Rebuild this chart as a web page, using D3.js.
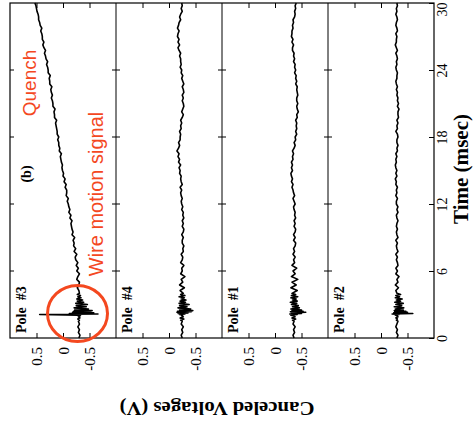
<!DOCTYPE html>
<html>
<head>
<meta charset="utf-8">
<script src="https://cdn.jsdelivr.net/npm/d3@7"></script>
<style>
  html, body { margin: 0; padding: 0; background: #fff; }
  svg { display: block; }
</style>
</head>
<body>
<svg id="chart" width="475" height="427"></svg>
<script>
// ---------------- DATA ----------------
const panelNames = ["Pole  #3", "Pole  #4", "Pole  #1", "Pole  #2"];
const timeTicks = [0, 6, 12, 18, 24, 30];
const voltTicks = [0.5, 0, -0.5];
const voltTickLabels = ["0.5", "0", "-0.5"];

// sample times (msec), rows
const timeRows = [
  [0,0.25,0.5,0.75,1,1.25,1.5],
  [1.6,1.7,1.8,1.9,2.0],
  [2.05,2.1,2.15,2.2,2.25,2.3,2.35,2.4,2.45,2.5],
  [2.6,2.7,2.8,2.9,3.0,3.1,3.2,3.3,3.4,3.5,3.6,3.7,3.8,3.9,4.0],
  [4.25,4.5,4.75,5,5.25,5.5,5.75,6,6.25,6.5,6.75,7],
  [7.25,7.5,7.75,8,8.25,8.5,8.75,9,9.25,9.5,9.75,10],
  [10.25,10.5,10.75,11,11.25,11.5,11.75,12,12.25,12.5,12.75,13],
  [13.25,13.5,13.75,14,14.25,14.5,14.75,15,15.25,15.5,15.75,16],
  [16.25,16.5,16.75,17,17.25,17.5,17.75,18,18.25,18.5,18.75,19],
  [19.25,19.5,19.75,20,20.25,20.5,20.75,21,21.25,21.5,21.75,22],
  [22.25,22.5,22.75,23,23.25,23.5,23.75,24,24.25,24.5,24.75,25],
  [25.25,25.5,25.75,26,26.25,26.5,26.75,27,27.25,27.5,27.75,28],
  [28.25,28.5,28.75,29,29.25,29.5,29.75,30]
];

// Pole #3 canceled voltage (V)
const pole3 = [
  [-0.30,-0.32,-0.29,-0.31,-0.28,-0.31,-0.29],
  [-0.31,-0.28,-0.32,-0.29,-0.33],
  [-0.28,0.44,-0.66,-0.12,-0.58,-0.18,-0.52,-0.20,-0.55,-0.22],
  [-0.48,-0.21,-0.44,-0.25,-0.46,-0.24,-0.39,-0.27,-0.37,-0.26,-0.34,-0.28,-0.33,-0.27,-0.31],
  [-0.30,-0.27,-0.30,-0.31,-0.26,-0.28,-0.31,-0.26,-0.29,-0.25,-0.28,-0.24],
  [-0.23,-0.26,-0.21,-0.24,-0.20,-0.21,-0.19,-0.22,-0.17,-0.19,-0.17,-0.16],
  [-0.15,-0.17,-0.13,-0.15,-0.11,-0.13,-0.11,-0.10,-0.08,-0.10,-0.06,-0.07],
  [-0.07,-0.04,-0.06,-0.02,-0.04,0.00,-0.01,0.01,0.02,0.01,0.03,0.04],
  [0.05,0.03,0.07,0.06,0.08,0.08,0.10,0.08,0.11,0.11,0.12,0.13],
  [0.14,0.12,0.16,0.16,0.17,0.15,0.19,0.19,0.20,0.22,0.20,0.22],
  [0.23,0.21,0.25,0.25,0.26,0.24,0.28,0.28,0.29,0.31,0.29,0.32],
  [0.33,0.35,0.33,0.36,0.38,0.36,0.39,0.39,0.40,0.42,0.40,0.43],
  [0.44,0.46,0.46,0.47,0.49,0.50,0.51,0.53]
];

// Pole #4
const pole4 = [
  [-0.25,-0.23,-0.26,-0.24,-0.27,-0.23,-0.25],
  [-0.22,-0.28,-0.21,-0.27,-0.24],
  [-0.26,-0.20,-0.30,-0.17,-0.36,-0.15,-0.42,-0.16,-0.45,-0.20],
  [-0.41,-0.17,-0.34,-0.20,-0.38,-0.19,-0.31,-0.21,-0.32,-0.23,-0.29,-0.19,-0.30,-0.22,-0.27],
  [-0.21,-0.29,-0.20,-0.26,-0.23,-0.30,-0.22,-0.25,-0.24,-0.28,-0.22,-0.25],
  [-0.26,-0.23,-0.27,-0.26,-0.28,-0.25,-0.25,-0.27,-0.24,-0.27,-0.28,-0.25],
  [-0.27,-0.25,-0.28,-0.26,-0.27,-0.24,-0.26,-0.24,-0.23,-0.25,-0.23,-0.22],
  [-0.24,-0.21,-0.25,-0.23,-0.22,-0.23,-0.20,-0.21,-0.19,-0.22,-0.18,-0.20],
  [-0.17,-0.19,-0.15,-0.18,-0.20,-0.18,-0.21,-0.21,-0.22,-0.20,-0.23,-0.22],
  [-0.24,-0.22,-0.25,-0.27,-0.24,-0.26,-0.28,-0.27,-0.25,-0.27,-0.25,-0.28],
  [-0.27,-0.25,-0.28,-0.26,-0.24,-0.26,-0.23,-0.24,-0.21,-0.23,-0.22,-0.22],
  [-0.20,-0.22,-0.19,-0.17,-0.20,-0.17,-0.19,-0.16,-0.17,-0.19,-0.16,-0.18],
  [-0.19,-0.22,-0.20,-0.22,-0.25,-0.23,-0.25,-0.24]
];

// Pole #1
const pole1 = [
  [-0.36,-0.34,-0.37,-0.35,-0.38,-0.34,-0.36],
  [-0.33,-0.39,-0.32,-0.38,-0.35],
  [-0.30,-0.42,-0.28,-0.50,-0.31,-0.58,-0.29,-0.53,-0.32,-0.50],
  [-0.30,-0.46,-0.33,-0.44,-0.31,-0.41,-0.29,-0.42,-0.33,-0.40,-0.30,-0.43,-0.31,-0.39,-0.32],
  [-0.42,-0.30,-0.40,-0.32,-0.43,-0.31,-0.38,-0.34,-0.41,-0.32,-0.37,-0.35],
  [-0.38,-0.34,-0.37,-0.35,-0.38,-0.39,-0.35,-0.38,-0.35,-0.38,-0.39,-0.36],
  [-0.38,-0.36,-0.39,-0.37,-0.38,-0.36,-0.35,-0.38,-0.36,-0.34,-0.37,-0.35],
  [-0.34,-0.32,-0.34,-0.31,-0.33,-0.31,-0.30,-0.33,-0.31,-0.33,-0.31,-0.34],
  [-0.33,-0.35,-0.33,-0.36,-0.38,-0.36,-0.39,-0.38,-0.41,-0.39,-0.41,-0.40],
  [-0.41,-0.39,-0.42,-0.41,-0.44,-0.42,-0.41,-0.43,-0.41,-0.41,-0.43,-0.42],
  [-0.41,-0.42,-0.39,-0.41,-0.39,-0.40,-0.37,-0.39,-0.37,-0.38,-0.35,-0.37],
  [-0.35,-0.36,-0.33,-0.33,-0.35,-0.32,-0.34,-0.31,-0.32,-0.32,-0.34,-0.33],
  [-0.35,-0.34,-0.37,-0.38,-0.37,-0.39,-0.38,-0.40]
];

// Pole #2
const pole2 = [
  [-0.30,-0.32,-0.29,-0.31,-0.28,-0.30,-0.32],
  [-0.29,-0.31,-0.28,-0.32,-0.30],
  [-0.27,-0.34,-0.21,-0.60,-0.24,-0.50,-0.26,-0.47,-0.25,-0.42],
  [-0.27,-0.43,-0.25,-0.39,-0.28,-0.42,-0.26,-0.37,-0.29,-0.40,-0.27,-0.35,-0.28,-0.37,-0.30],
  [-0.28,-0.33,-0.27,-0.32,-0.30,-0.34,-0.28,-0.31,-0.28,-0.32,-0.31,-0.29],
  [-0.31,-0.28,-0.32,-0.30,-0.29,-0.31,-0.28,-0.32,-0.30,-0.29,-0.31,-0.29],
  [-0.30,-0.32,-0.30,-0.29,-0.32,-0.30,-0.32,-0.29,-0.29,-0.31,-0.28,-0.30],
  [-0.29,-0.31,-0.28,-0.29,-0.27,-0.30,-0.28,-0.30,-0.28,-0.27,-0.29,-0.28],
  [-0.30,-0.28,-0.31,-0.30,-0.32,-0.30,-0.30,-0.32,-0.31,-0.28,-0.31,-0.30],
  [-0.32,-0.30,-0.33,-0.32,-0.32,-0.34,-0.31,-0.33,-0.31,-0.32,-0.30,-0.31],
  [-0.29,-0.31,-0.29,-0.28,-0.30,-0.30,-0.31,-0.29,-0.28,-0.30,-0.29,-0.31],
  [-0.30,-0.28,-0.31,-0.29,-0.27,-0.29,-0.29,-0.30,-0.28,-0.31,-0.30,-0.28],
  [-0.29,-0.31,-0.30,-0.28,-0.30,-0.29,-0.31,-0.30]
];

const panelSeries = [pole3, pole4, pole1, pole2];

// ---------------- DRAW ----------------
(function () {
const svg = d3.select("#chart");
const mLeft = 10, mRight = 434, mTop = 3, mBottom = 338;
const nP = panelNames.length;
const pw = (mRight - mLeft) / nP;
const serif = "'Liberation Serif', 'Times New Roman', serif";
const sans = "'Liberation Sans', Arial, sans-serif";
const orange = "#f4481f";

const y = d3.scaleLinear().domain([0, 30]).range([mBottom, mTop]);
const times = timeRows.flat();
const line = d3.line();

panelSeries.forEach((rows, i) => {
  const x0 = mLeft + i * pw;
  const x = d3.scaleLinear().domain([1, -1]).range([x0, x0 + pw]);
  const vals = rows.flat();
  const n = Math.min(vals.length, times.length);
  const pts = [];
  for (let k = 0; k < n; k++) pts.push([x(vals[k]), y(times[k])]);

  svg.append("path")
    .attr("d", line(pts))
    .attr("fill", "none")
    .attr("stroke", "#000")
    .attr("stroke-width", 1.6)
    .attr("stroke-linejoin", "round");

  const axB = svg.append("g")
    .attr("transform", `translate(0,${mBottom})`)
    .call(d3.axisBottom(x).tickValues(voltTicks).tickSizeInner(-5).tickSizeOuter(0)
      .tickFormat((d, j) => voltTickLabels[j]));
  axB.select(".domain").remove();
  axB.selectAll("line").attr("stroke", "#000");
  axB.selectAll("text")
    .attr("y", null).attr("dy", null)
    .attr("transform", "translate(5,9) rotate(-90)")
    .attr("text-anchor", "end")
    .attr("font-family", serif)
    .attr("font-size", 15)
    .attr("fill", "#000");

  const axT = svg.append("g")
    .attr("transform", `translate(0,${mTop})`)
    .call(d3.axisTop(x).tickValues(voltTicks).tickSizeInner(-5).tickSizeOuter(0).tickFormat(""));
  axT.select(".domain").remove();
  axT.selectAll("line").attr("stroke", "#000");

  const inner = [6, 12, 18, 24];
  svg.append("g").selectAll("line").data(inner).join("line")
    .attr("x1", i === 0 ? x0 : x0 - 4)
    .attr("x2", x0 + 4)
    .attr("y1", d => y(d)).attr("y2", d => y(d))
    .attr("stroke", "#000");

  svg.append("text")
    .attr("transform", `translate(${x0 + 15.5},${mBottom - 5}) rotate(-90)`)
    .attr("text-anchor", "start")
    .attr("font-family", serif)
    .attr("font-weight", "bold")
    .attr("font-size", 14)
    .style("white-space", "pre")
    .text(panelNames[i]);

  if (i > 0) {
    svg.append("line")
      .attr("x1", x0).attr("x2", x0).attr("y1", mTop).attr("y2", mBottom)
      .attr("stroke", "#000").attr("stroke-width", 1);
  }
});

svg.append("rect")
  .attr("x", mLeft).attr("y", mTop)
  .attr("width", mRight - mLeft).attr("height", mBottom - mTop)
  .attr("fill", "none").attr("stroke", "#000").attr("stroke-width", 1.2);

const axR = svg.append("g")
  .attr("transform", `translate(${mRight},0)`)
  .call(d3.axisRight(y).tickValues(timeTicks).tickSizeInner(-5).tickSizeOuter(0).tickFormat(d3.format("d")));
axR.select(".domain").remove();
axR.selectAll("line").attr("stroke", "#000");
axR.selectAll("text")
  .attr("x", null).attr("dy", null)
  .attr("transform", d => `translate(13,${d === 30 ? 6 : 0}) rotate(-90)`)
  .attr("text-anchor", "middle")
  .attr("font-family", serif)
  .attr("font-size", 14)
  .attr("fill", "#000");

svg.append("text")
  .attr("transform", `translate(468,169) rotate(-90)`)
  .attr("text-anchor", "middle")
  .attr("font-family", serif)
  .attr("font-weight", "bold")
  .attr("font-size", 21)
  .attr("textLength", 110)
  .attr("lengthAdjust", "spacingAndGlyphs")
  .text("Time (msec)");

svg.append("text")
  .attr("transform", `translate(217,402) rotate(180)`)
  .attr("text-anchor", "middle")
  .attr("font-family", serif)
  .attr("font-weight", "bold")
  .attr("font-size", 18)
  .attr("textLength", 195)
  .attr("lengthAdjust", "spacingAndGlyphs")
  .text("Canceled Voltages (V)");

svg.append("text")
  .attr("transform", `translate(31,174) rotate(-90)`)
  .attr("text-anchor", "middle")
  .attr("font-family", serif)
  .attr("font-weight", "bold")
  .attr("font-size", 14)
  .text("(b)");

svg.append("text")
  .attr("transform", `translate(36,83) rotate(-90)`)
  .attr("text-anchor", "middle")
  .attr("font-family", sans)
  .attr("font-size", 19)
  .attr("fill", orange)
  .text("Quench");

svg.append("text")
  .attr("transform", `translate(103,194) rotate(-90)`)
  .attr("text-anchor", "middle")
  .attr("font-family", sans)
  .attr("font-size", 20)
  .attr("fill", orange)
  .text("Wire motion signal");

svg.append("ellipse")
  .attr("cx", 77.5).attr("cy", 313.5)
  .attr("rx", 30).attr("ry", 28)
  .attr("fill", "none")
  .attr("stroke", orange)
  .attr("stroke-width", 3);
})();
</script>
</body>
</html>
